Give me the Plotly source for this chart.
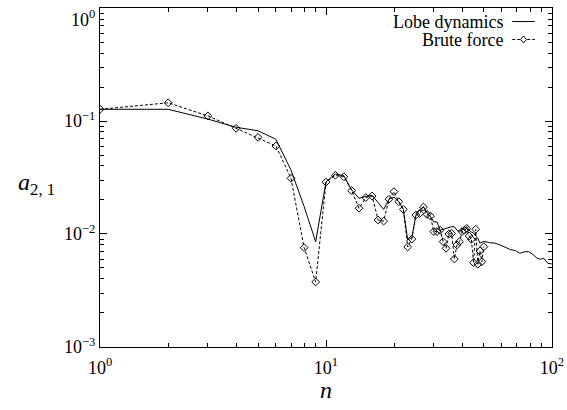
import plotly.graph_objects as go

# ---- data ----
n_lobe = list(range(1, 51)) + [53, 56, 59, 62, 65, 69, 72, 76, 79, 83, 86, 89, 92, 96, 100]
a_lobe = [0.127, 0.127, 0.104, 0.088, 0.082, 0.0689, 0.0368, 0.0175, 0.00855, 0.0290,
          0.0340, 0.0328, 0.0245, 0.0207, 0.0215, 0.0220, 0.0190, 0.0165, 0.0203, 0.0212,
          0.0193, 0.0165, 0.00885, 0.0093, 0.0147, 0.0163, 0.0175, 0.0155, 0.0143, 0.0128,
          0.0128, 0.0108, 0.0110, 0.0112, 0.0115, 0.0116, 0.0116, 0.0108, 0.0105, 0.0108,
          0.0112, 0.0116, 0.0108, 0.0104, 0.0102, 0.0096, 0.0092, 0.0083, 0.0085, 0.0086,
          0.00838, 0.0083, 0.0080, 0.00762, 0.00732, 0.00712, 0.00675, 0.00697, 0.00697,
          0.00652, 0.0061, 0.00597, 0.0061, 0.0055, 0.00543]

n_brute = list(range(1, 51))
a_brute = [0.127, 0.145, 0.111, 0.0862, 0.0717, 0.0601, 0.0311, 0.00757, 0.00376, 0.0288,
           0.0331, 0.0321, 0.0242, 0.0169, 0.0210, 0.0217, 0.0133, 0.0130, 0.0203, 0.0237,
           0.0193, 0.0165, 0.00767, 0.00904, 0.0147, 0.0152, 0.0173, 0.0149, 0.0144, 0.0105,
           0.0105, 0.0108, 0.00855, 0.00747, 0.0100, 0.0101, 0.00601, 0.0080, 0.00855, 0.0105,
           0.0108, 0.0112, 0.0096, 0.00898, 0.00557, 0.0110, 0.00540, 0.00708, 0.00569, 0.00772]

x_tickvals = [1, 10, 100]
x_ticktext = ["10<sup>0</sup>", "10<sup>1</sup>", "10<sup>2</sup>"]
y_tickvals = [0.001, 0.01, 0.1, 1]
y_ticktext = ["10<sup>−3</sup>", "10<sup>−2</sup>", "10<sup>−1</sup>", " <br>10<sup>0</sup>"]

series_names = ["Lobe dynamics", "Brute force"]

FONT = "Liberation Serif"

fig = go.Figure()
fig.add_trace(go.Scatter(x=n_lobe, y=a_lobe, mode="lines", name=series_names[0],
                         line=dict(color="black", width=1), showlegend=False))
fig.add_trace(go.Scatter(x=n_brute, y=a_brute, mode="lines+markers", name=series_names[1],
                         line=dict(color="black", width=1, dash="3px,2px"),
                         marker=dict(symbol="diamond-open", size=6, color="black",
                                     line=dict(width=1, color="black")),
                         showlegend=False))

axis_common = dict(type="log", showline=True, linecolor="black", linewidth=1, mirror="ticks",
                   ticks="inside", ticklen=7, tickcolor="black", showgrid=False, zeroline=False,
                   automargin=False, ticklabeloverflow="allow",
                   tickfont=dict(family=FONT, size=18, color="black"),
                   minor=dict(ticks="inside", ticklen=4, tickcolor="black", dtick="D1", showgrid=False))

fig.update_xaxes(range=[-0.0005, 2.0005], tickvals=x_tickvals, ticktext=x_ticktext,
                 ticklabelstandoff=4, **axis_common)
fig.update_yaxes(range=[-3.0005, 0.0005], tickvals=y_tickvals, ticktext=y_ticktext, **axis_common)

# custom legend (text on the left, sample on the right as in the reference)
lx0, lx1 = 0.912, 0.962
ly = [0.960, 0.907]
annotations = [
    dict(text=series_names[0], xref="paper", yref="paper", x=0.895, y=ly[0], xanchor="right",
         yanchor="middle", showarrow=False, font=dict(family=FONT, size=18, color="black")),
    dict(text=series_names[1], xref="paper", yref="paper", x=0.895, y=ly[1], xanchor="right",
         yanchor="middle", showarrow=False, font=dict(family=FONT, size=18, color="black")),
    dict(text="<i>a</i><sub>2, 1</sub>", xref="paper", yref="paper", x=-0.14, y=0.48,
         xanchor="center", yanchor="middle", showarrow=False,
         font=dict(family=FONT, size=24, color="black")),
    dict(text="<i>n</i>", xref="paper", yref="paper", x=0.5, y=-0.128, xanchor="center",
         yanchor="middle", showarrow=False, font=dict(family=FONT, size=24, color="black")),
]
dx, dy = 0.0066, 0.0103
dcx = (lx0 + lx1) / 2
shapes = [
    dict(type="line", xref="paper", yref="paper", x0=lx0, x1=lx1, y0=ly[0], y1=ly[0],
         line=dict(color="black", width=1)),
    dict(type="line", xref="paper", yref="paper", x0=lx0, x1=lx1, y0=ly[1], y1=ly[1],
         line=dict(color="black", width=1, dash="3px,2px")),
    dict(type="path", xref="paper", yref="paper",
         path=f"M {dcx-dx} {ly[1]} L {dcx} {ly[1]+dy} L {dcx+dx} {ly[1]} L {dcx} {ly[1]-dy} Z",
         fillcolor="white", line=dict(color="black", width=1)),
]

fig.update_layout(width=567, height=410, margin=dict(l=100, r=15, t=8, b=63),
                  paper_bgcolor="white", plot_bgcolor="white",
                  font=dict(family=FONT, color="black"),
                  annotations=annotations, shapes=shapes, showlegend=False)

fig.write_html("out.html", config={"displayModeBar": False},
               post_script="document.body.style.margin='0';")
